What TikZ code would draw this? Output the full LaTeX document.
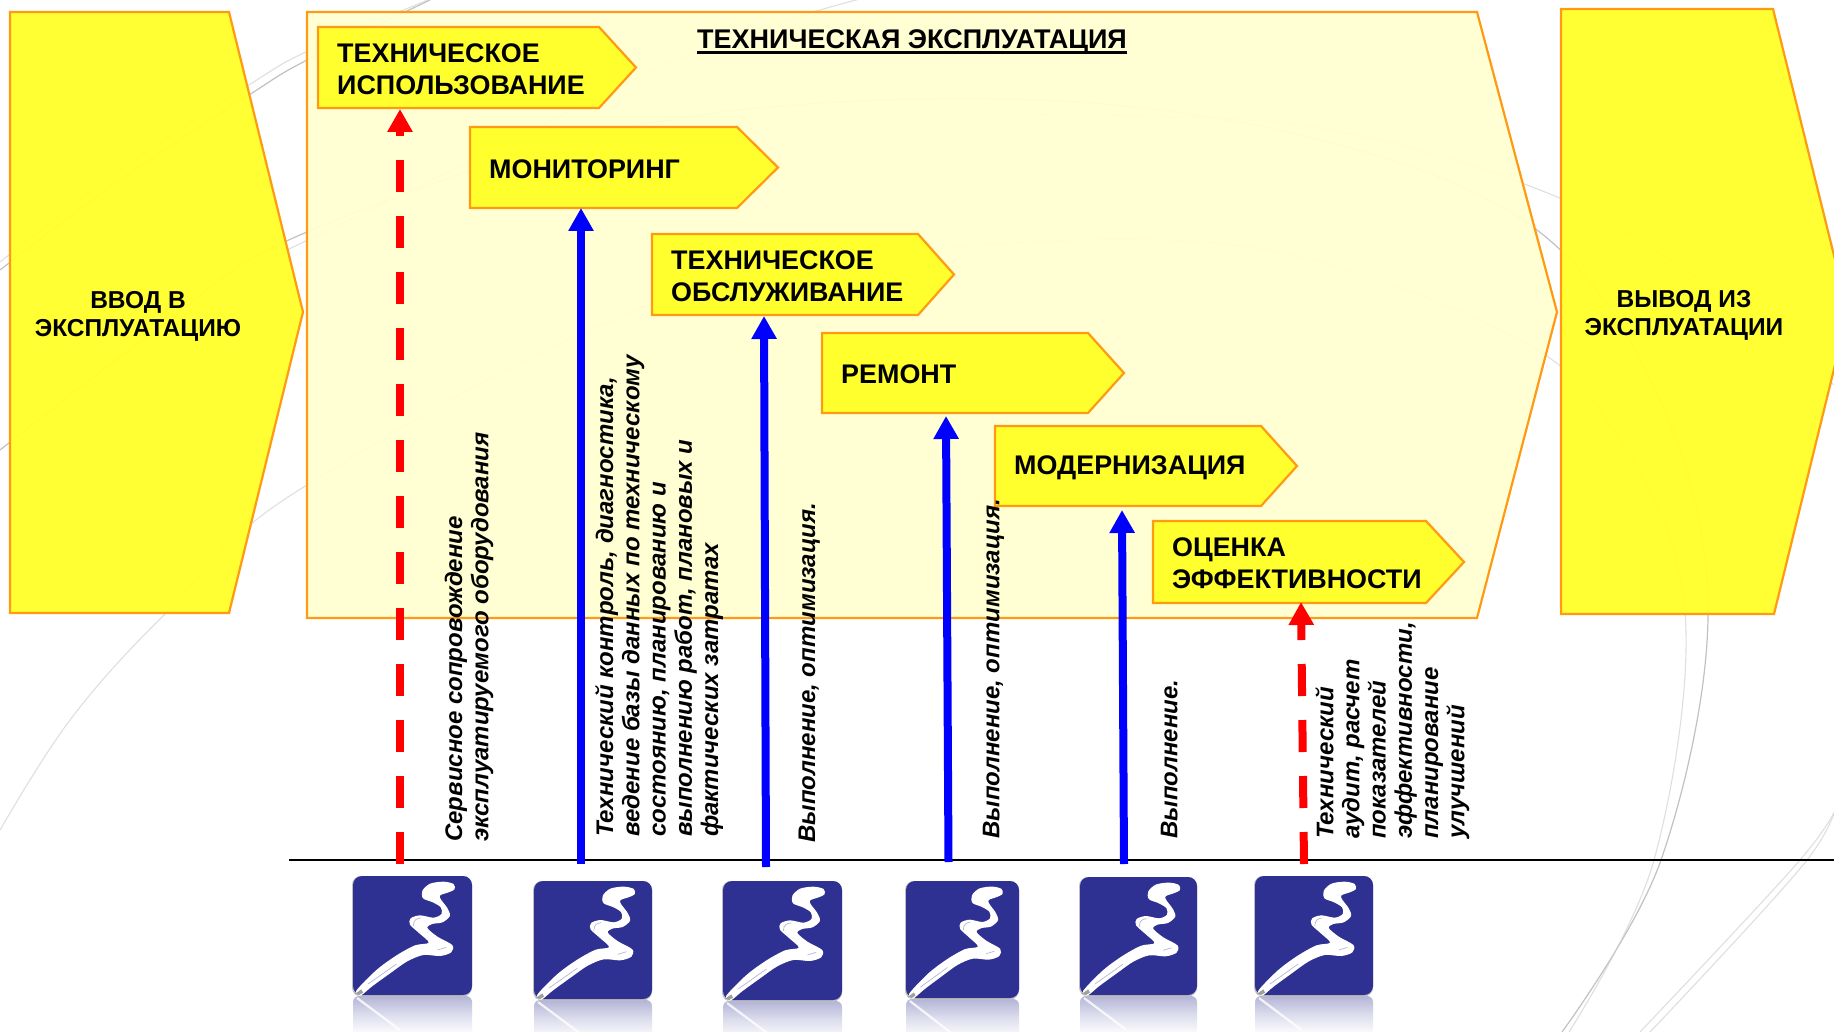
\documentclass[tikz,border=0pt]{standalone}
\usepackage{fontspec}
\setmainfont{Liberation Sans}
\usetikzlibrary{arrows.meta}
\definecolor{pentfill}{HTML}{FFFF2D}
\definecolor{panelfill}{HTML}{FFFFD2}
\definecolor{edgeorange}{HTML}{FF9A12}
\definecolor{logoblue}{HTML}{2E3192}
\definecolor{arrowblue}{HTML}{0000FF}
\definecolor{arrowred}{HTML}{FF0000}
\definecolor{reflecttop}{HTML}{B4B5D6}
\definecolor{reflectmid}{HTML}{DEDFEE}
\tikzset{
  bgarc/.style={draw=gray!35,line width=1.1pt,opacity=.7},
  bgarcdark/.style={draw=gray!60,line width=1.2pt,opacity=.8},
  pent/.style={draw=edgeorange,fill=pentfill,line width=2.2pt,line join=miter},
  panel/.style={draw=edgeorange,fill=panelfill,fill opacity=.96,line width=2.2pt},
  chev/.style={draw=edgeorange,fill=pentfill,line width=2.2pt},
  chevtext/.style={anchor=west,align=left,inner sep=0pt,font=\fontsize{26.9}{32}\selectfont\bfseries},
  sidetext/.style={align=center,inner sep=0pt,font=\fontsize{24.5}{28}\selectfont\bfseries},
  titletext/.style={anchor=base,inner sep=0pt,font=\fontsize{27}{32}\selectfont\bfseries},
  vtext/.style={rotate=90,anchor=north west,align=left,inner sep=0pt,font=\fontsize{24}{26.2}\selectfont\bfseries\itshape},
  blueline/.style={draw=arrowblue,line width=8pt,-{Triangle[length=23pt,width=24pt]}},
  redline/.style={draw=arrowred,line width=8pt,dash pattern=on 32pt off 24pt,-{Triangle[length=23pt,width=24pt]}},
  baseline rule/.style={draw=black,line width=1.8pt},
}
\newcommand\chevron[7]{% name, left, top, bottom, notch, tip, text
  \path[chev] (#2,#3) -- (#5,#3) -- (#6,{(#3+#4)/2}) -- (#5,#4) -- (#2,#4) -- cycle;
  \node[chevtext] (#1) at ({#2+19},{(#3+#4)/2+1.5}) {#7};
}
\newcommand\logomark[4]{% x, y, w, h
  \begin{scope}[shift={(#1,#2)}]
    \shade[top color=reflecttop,bottom color=white,middle color=reflectmid,rounded corners=6pt]
      (0,{#4+40}) -- (0,{#4+1}) -- ({#3},{#4+1}) -- ({#3},{#4+40}) -- cycle;
    \fill[white!50!gray,rounded corners=9pt] (-1,0) rectangle ({#3},{#4+1.5});
    \fill[logoblue,rounded corners=9pt] (0,0) rectangle (#3,#4);
    \pgfmathsetlengthmacro{\lx}{#3/355*1pt}
    \pgfmathsetlengthmacro{\ly}{#4/357*1pt}
    \begin{scope}[x=\lx,y=-\ly,shift={(-160,-108)}]
      \fill[white] plot[smooth cycle,tension=.5] coordinates {
        (170,452)(230,390)(290,346)(345,316)(386,308)(358,280)(330,254)(332,235)
        (360,226)(400,233)(424,222)(422,202)(398,187)(369,175)(367,152)(390,131)
        (430,125)(460,132)(463,148)(445,157)(420,166)(422,178)(442,205)(449,228)
        (427,247)(396,252)(382,264)(412,290)(456,315)(453,337)(420,348)(370,345)
        (322,364)(272,399)(217,439)(182,467)};
      \draw[logoblue!35!white,line width=.7pt] (205,432) -- (290,372);
      \draw[logoblue!35!white,line width=.7pt] (340,258) .. controls (340,240) and (350,235) .. (362,234);
      \draw[logoblue!35!white,line width=.7pt] (412,330) -- (438,322);
      \fill[gray!75] (165,462) -- (185,448) -- (190,458) -- (178,465) -- cycle;
      \draw[white,line width=2.2pt,opacity=.8] (172,474) -- (300,570);
    \end{scope}
  \end{scope}
}
\begin{document}
\begin{tikzpicture}[x=1pt,y=-1pt]
\clip (0,0) rectangle (1834,1032);
\fill[white] (0,0) rectangle (1834,1032);

% faint background arcs
\draw[bgarcdark] plot[smooth,tension=.6] coordinates {(0,450)(150,335)(300,235)(640,125)(1000,99)(1300,135)(1533,227)(1660,400)(1708,612)(1661,860)(1562,1032)};
\draw[bgarc] plot[smooth,tension=.6] coordinates {(0,830)(70,720)(163,616)(307,485)(700,290)(1188,241)(1500,330)(1620,440)(1685,612)(1654,860)(1569,1032)};
\draw[bgarcdark] plot[smooth,tension=.6] coordinates {(0,270)(120,180)(249,95)(307,60)(430,0)};
\draw[bgarc] plot[smooth,tension=.6] coordinates {(0,262)(120,170)(249,85)(310,50)(440,-5)};
\draw[bgarc] plot[smooth,tension=.6] coordinates {(287,250)(467,163)(700,50)(875,-5)};
\draw[bgarc] plot[smooth,tension=.6] coordinates {(1000,115)(1300,125)(1540,190)(1700,280)(1840,390)};
\draw[bgarc] plot[smooth,tension=.6] coordinates {(1840,790)(1807,860)(1650,1032)};
\draw[bgarc] plot[smooth,tension=.6] coordinates {(1840,800)(1800,860)(1640,1032)};

% main panels
\path[panel] (307,12) -- (1477,12) -- (1557,312) -- (1477,618) -- (307,618) -- cycle;
\path[pent,fill opacity=.97] (10,12) -- (229,12) -- (303,312) -- (229,613) -- (10,613) -- cycle;
\path[pent,fill opacity=.97] (1561,9) -- (1773,9) -- (1848,312) -- (1774,614) -- (1561,614) -- cycle;

\node[sidetext] (enter) at (138,316) {ВВОД В\\ЭКСПЛУАТАЦИЮ};
\node[sidetext] (leave) at (1684,315) {ВЫВОД ИЗ\\ЭКСПЛУАТАЦИИ};
\node[titletext] (title) at (912,49) {\vtop{\hbox{ТЕХНИЧЕСКАЯ ЭКСПЛУАТАЦИЯ}\kern-3pt\hrule height 2.6pt}};

% stages
\chevron{use}{318}{27}{108}{599}{636}{ТЕХНИЧЕСКОЕ\\ИСПОЛЬЗОВАНИЕ}
\chevron{mon}{470}{127}{208}{737}{778}{МОНИТОРИНГ}
\chevron{serv}{652}{234}{315}{918}{954}{ТЕХНИЧЕСКОЕ\\ОБСЛУЖИВАНИЕ}
\chevron{rep}{822}{333}{413}{1088}{1124}{РЕМОНТ}
\chevron{mod}{995}{426}{506}{1261}{1297}{МОДЕРНИЗАЦИЯ}
\chevron{eff}{1153}{521}{603}{1426}{1464}{ОЦЕНКА\\ЭФФЕКТИВНОСТИ}

% baseline
\coordinate (ruleL) at (289,860);
\coordinate (ruleR) at (1834,860);
\draw[baseline rule] (ruleL) -- (ruleR);

% arrows
\coordinate (a1b) at (400,864); \coordinate (a1t) at (400,109);
\coordinate (a2b) at (581,864); \coordinate (a2t) at (581,208);
\coordinate (a3b) at (766,867); \coordinate (a3t) at (764,316);
\coordinate (a4b) at (948.5,862); \coordinate (a4t) at (946,416);
\coordinate (a5b) at (1124,864); \coordinate (a5t) at (1122,510);
\coordinate (a6b) at (1304,864); \coordinate (a6t) at (1301,602);
\draw[redline] (a1b) -- (a1t);
\draw[blueline] (a2b) -- (a2t);
\draw[blueline] (a3b) -- (a3t);
\draw[blueline] (a4b) -- (a4t);
\draw[blueline] (a5b) -- (a5t);
\draw[redline] (a6b) -- (a6t);

% rotated captions
\node[vtext] (t1) at ({462-18.3},842) {\strut Сервисное сопровождение\\\strut эксплуатируемого оборудования};
\node[vtext] (t2) at ({613-18.3},837) {\strut Технический контроль, диагностика,\\\strut ведение базы данных по техническому\\\strut состоянию, планированию и\\\strut выполнению работ, плановых и\\\strut фактических затратах};
\node[vtext] (t3) at ({815-18.3},843) {\strut Выполнение, оптимизация.};
\node[vtext] (t4) at ({999-18.3},839) {\strut Выполнение, оптимизация.};
\node[vtext] (t5) at ({1177-18.3},839) {\strut Выполнение.};
\node[vtext] (t6) at ({1333-18.3},839) {\strut Технический\\\strut аудит, расчет\\\strut показателей\\\strut эффективности,\\\strut планирование\\\strut улучшений};

% logos
\logomark{353}{876}{119}{119}
\logomark{534}{881}{118}{118}
\logomark{723}{881}{119}{119}
\logomark{906}{881}{113}{117}
\logomark{1080}{877}{117}{118}
\logomark{1255}{876}{118}{119}
\end{tikzpicture}
\end{document}
